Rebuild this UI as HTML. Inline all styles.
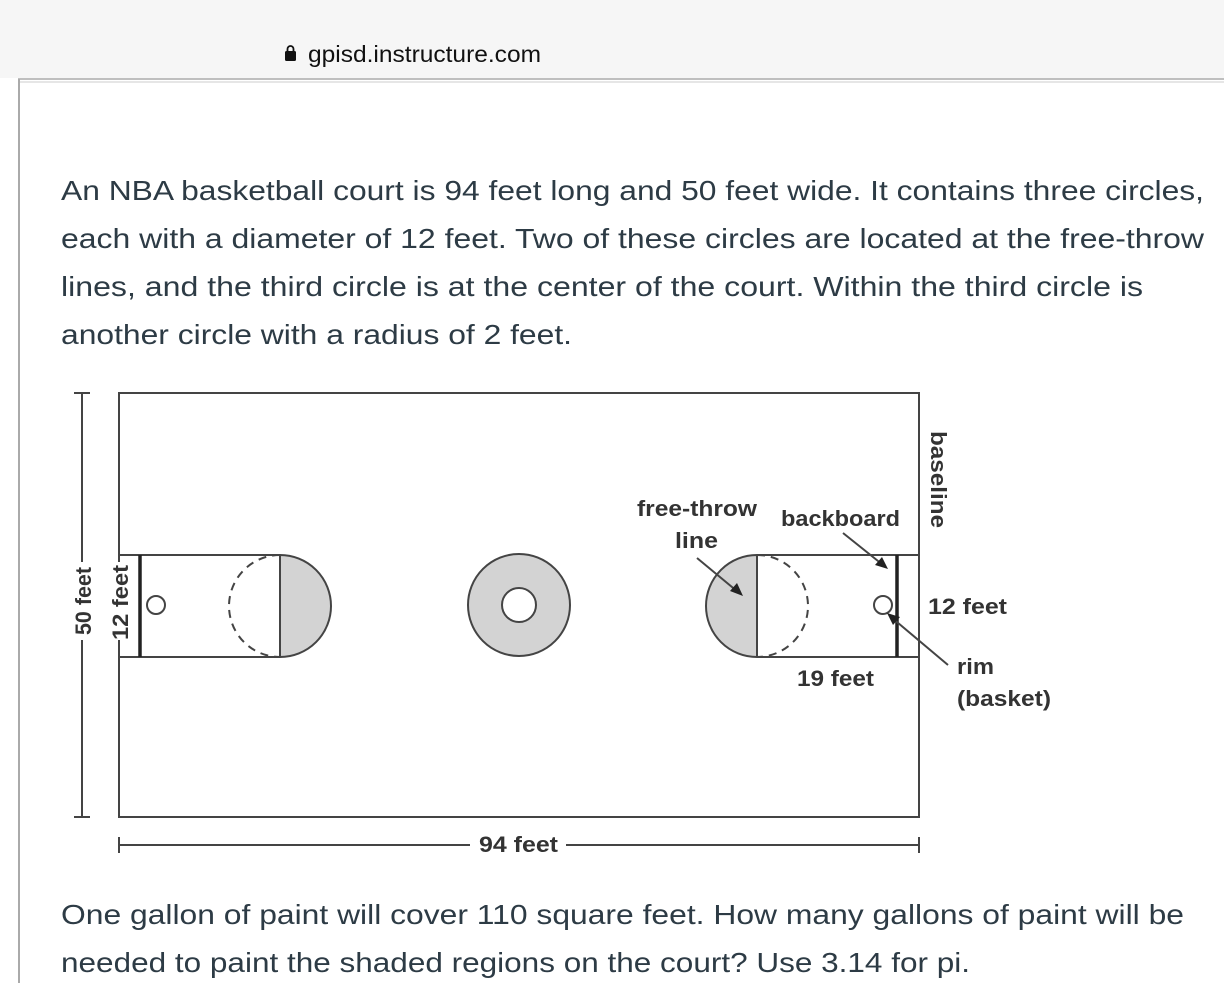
<!DOCTYPE html>
<html><head><meta charset="utf-8"><style>
html,body{margin:0;padding:0;background:#fff;}
svg{display:block;}
</style></head><body>
<svg width="1224" height="983" viewBox="0 0 1224 983" xmlns="http://www.w3.org/2000/svg">
<rect x="0" y="0" width="1224" height="78" fill="#f6f6f6"/>
<line x1="18" y1="79" x2="1224" y2="79" stroke="#aaa" stroke-width="1.5"/>
<line x1="18" y1="82" x2="1224" y2="82" stroke="#ccc" stroke-width="1"/>
<line x1="19" y1="79" x2="19" y2="983" stroke="#aaa" stroke-width="2"/>
<!-- lock -->
<rect x="285" y="51" width="11" height="10" rx="1.5" fill="#111"/>
<path d="M287.5 52 v-3 a3 3 0 0 1 6 0 v3" fill="none" stroke="#111" stroke-width="1.8"/>
<text x="308" y="62" font-family="Liberation Sans, sans-serif" font-size="23" fill="#111" textLength="233" lengthAdjust="spacingAndGlyphs">gpisd.instructure.com</text>

<g font-family="Liberation Sans, sans-serif" font-size="28" fill="#2d3b45">
<text x="61" y="200" textLength="1143" lengthAdjust="spacingAndGlyphs">An NBA basketball court is 94 feet long and 50 feet wide. It contains three circles,</text>
<text x="61" y="248" textLength="1143" lengthAdjust="spacingAndGlyphs">each with a diameter of 12 feet. Two of these circles are located at the free-throw</text>
<text x="61" y="296" textLength="1082" lengthAdjust="spacingAndGlyphs">lines, and the third circle is at the center of the court. Within the third circle is</text>
<text x="61" y="344" textLength="511" lengthAdjust="spacingAndGlyphs">another circle with a radius of 2 feet.</text>
<text x="61" y="924" textLength="1123" lengthAdjust="spacingAndGlyphs">One gallon of paint will cover 110 square feet. How many gallons of paint will be</text>
<text x="61" y="972" textLength="909" lengthAdjust="spacingAndGlyphs">needed to paint the shaded regions on the court? Use 3.14 for pi.</text>
</g>

<g stroke="#444" stroke-width="2" fill="none">
<rect x="119" y="393" width="800" height="424"/>
<!-- left key -->
<line x1="119" y1="555" x2="280" y2="555"/>
<line x1="119" y1="657" x2="280" y2="657"/>
<path d="M280 555 A51 51 0 0 1 280 657 Z" fill="#d3d3d3"/>
<line x1="280" y1="555" x2="280" y2="657"/>
<path d="M280 555 A51 51 0 0 0 280 657" stroke-dasharray="8 6"/>
<line x1="140" y1="555" x2="140" y2="657" stroke="#222" stroke-width="3.5"/>
<circle cx="156" cy="605" r="9" fill="#fff"/>
<!-- center -->
<circle cx="519" cy="605" r="51" fill="#d3d3d3"/>
<circle cx="519" cy="605" r="17" fill="#fff"/>
<!-- right key -->
<line x1="757" y1="555" x2="919" y2="555"/>
<line x1="757" y1="657" x2="919" y2="657"/>
<path d="M757 555 A51 51 0 0 0 757 657 Z" fill="#d3d3d3"/>
<line x1="757" y1="555" x2="757" y2="657"/>
<path d="M757 555 A51 51 0 0 1 757 657" stroke-dasharray="8 6"/>
<line x1="897" y1="555" x2="897" y2="657" stroke="#222" stroke-width="3.5"/>
<circle cx="883" cy="605" r="9" fill="#fff"/>
<!-- dimension lines -->
<line x1="82" y1="393" x2="82" y2="817"/>
<line x1="74" y1="393" x2="90" y2="393"/>
<line x1="74" y1="817" x2="90" y2="817"/>
<line x1="119" y1="837" x2="119" y2="853"/>
<line x1="919" y1="837" x2="919" y2="853"/>
<line x1="119" y1="845" x2="919" y2="845"/>
<!-- arrows -->
<line x1="697" y1="558" x2="738" y2="592"/>
<line x1="843" y1="533" x2="883" y2="565"/>
<line x1="948" y1="665" x2="891" y2="617"/>
</g>
<g fill="#222">
<polygon points="743,596 730,591 737,583"/>
<polygon points="888,569 875,565 882,557"/>
<polygon points="887,613 900,617 893,625"/>
</g>
<!-- white gaps for labels -->
<rect x="68" y="562" width="28" height="78" fill="#fff"/>
<rect x="108" y="562" width="26" height="78" fill="#fff"/>
<rect x="470" y="830" width="96" height="30" fill="#fff"/>
<g font-family="Liberation Sans, sans-serif" font-weight="bold" font-size="22" fill="#333">
<text transform="translate(91,635) rotate(-90)" textLength="68" lengthAdjust="spacingAndGlyphs">50 feet</text>
<text transform="translate(128,640) rotate(-90)" textLength="75" lengthAdjust="spacingAndGlyphs">12 feet</text>
<text transform="translate(931,431) rotate(90)" textLength="97" lengthAdjust="spacingAndGlyphs">baseline</text>
<text x="637" y="516" textLength="120" lengthAdjust="spacingAndGlyphs">free-throw</text>
<text x="675" y="548" textLength="43" lengthAdjust="spacingAndGlyphs">line</text>
<text x="781" y="526" textLength="119" lengthAdjust="spacingAndGlyphs">backboard</text>
<text x="928" y="614" textLength="79" lengthAdjust="spacingAndGlyphs">12 feet</text>
<text x="797" y="686" textLength="77" lengthAdjust="spacingAndGlyphs">19 feet</text>
<text x="957" y="674" textLength="37" lengthAdjust="spacingAndGlyphs">rim</text>
<text x="957" y="706" textLength="94" lengthAdjust="spacingAndGlyphs">(basket)</text>
<text x="479" y="852" textLength="79" lengthAdjust="spacingAndGlyphs">94 feet</text>
</g>
</svg>
</body></html>
